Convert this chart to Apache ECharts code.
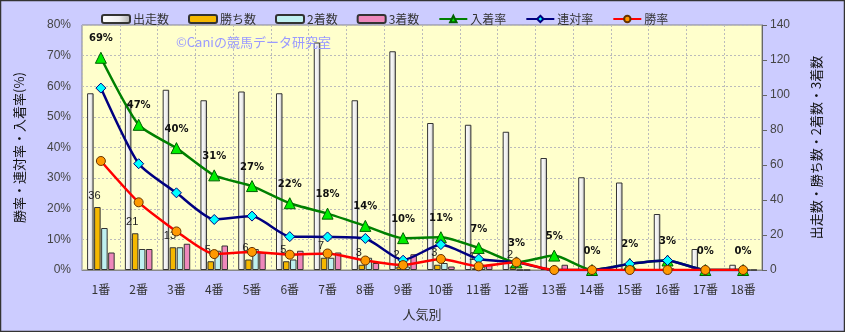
<!DOCTYPE html>
<html><head><meta charset="utf-8">
<script src="https://cdn.jsdelivr.net/npm/echarts@6/dist/echarts.min.js"></script>
<style>html,body{margin:0;padding:0;background:#ccccff}#c{width:845px;height:332px}</style>
</head><body><div id="c"></div>
<script>
const categories = ['1番','2番','3番','4番','5番','6番','7番','8番','9番','10番','11番','12番','13番','14番','15番','16番','17番','18番'];
const starts  = [101, 95, 103, 97, 102, 101, 130, 97, 125, 84, 83, 79, 64, 53, 50, 32, 12, 3];
const wins    = [36, 21, 13, 5, 6, 5, 7, 3, 2, 3, 1, 2, 0, 0, 0, 0, 0, 0];
const seconds = [24, 12, 13, 11, 12, 6, 7, 7, 2, 4, 2, 0, 0, 0, 1, 1, 0, 0];
const thirds  = [10, 12, 15, 14, 10, 11, 10, 4, 9, 2, 3, 0, 3, 0, 0, 0, 0, 0];
const placeRate    = [69.3, 47.4, 39.8, 30.9, 27.4, 21.8, 18.4, 14.4, 10.4, 10.7, 7.2, 2.5, 4.7, 0, 2.0, 3.1, 0, 0];
const quinellaRate = [59.4, 34.7, 25.2, 16.5, 17.6, 10.9, 10.8, 10.3, 3.2, 8.3, 3.6, 2.5, 0, 0, 2.0, 3.1, 0, 0];
const winRate      = [35.6, 22.1, 12.6, 5.2, 5.9, 5.0, 5.4, 3.1, 1.6, 3.6, 1.2, 2.5, 0, 0, 0, 0, 0, 0];
const leftTicks = [0, 10, 20, 30, 40, 50, 60, 70, 80];
const rightTicks = [0, 20, 40, 60, 80, 100, 120, 140];

const JP = '"Noto Sans CJK JP", sans-serif';
const chart = echarts.init(document.getElementById('c'));
const barW = 6.5;
const bs = (c) => ({ color: c, borderColor: '#333', borderWidth: 1 });
chart.setOption({
  backgroundColor: '#ccccff',
  animation: false,
  textStyle: { fontFamily: JP },
  graphic: [
    { type: 'rect', shape: { x: 0.5, y: 0.5, width: 844, height: 331 }, style: { fill: 'none', stroke: '#333', lineWidth: 1.5 }, z: 100 },
    { type: 'text', left: 176, top: 36, z: 50, style: { text: '©Caniの競馬データ研究室', fill: '#9a9aff', font: '13px "Noto Sans CJK JP"' } }
  ],
  legend: {
    top: 8, left: 96, itemWidth: 28, itemHeight: 8, itemGap: 19,
    textStyle: { fontSize: 12, color: '#333', fontFamily: JP, padding: [0, 0, 0, -2] },
    data: [
      { name: '出走数', icon: 'roundRect' }, { name: '勝ち数', icon: 'roundRect' },
      { name: '2着数', icon: 'roundRect' }, { name: '3着数', icon: 'roundRect' },
      '入着率', '連対率', '勝率'
    ]
  },
  grid: { left: 82, right: 83, top: 25, bottom: 62, show: true, backgroundColor: '#ffffcc', borderColor: '#888', borderWidth: 1 },
  xAxis: {
    type: 'category', data: categories,
    name: '人気別', nameLocation: 'middle', nameGap: 38,
    nameTextStyle: { fontSize: 13, color: '#333', fontFamily: JP },
    axisLine: { lineStyle: { color: '#888' } },
    axisTick: { show: false },
    axisLabel: { fontSize: 12, color: '#333', margin: 13, interval: 0, fontFamily: JP },
    splitLine: { show: true, lineStyle: { color: '#bbb', type: [2, 2] } }
  },
  yAxis: [
    {
      type: 'value', min: leftTicks[0], max: leftTicks[leftTicks.length - 1], interval: 10,
      name: '勝率・連対率・入着率(%)', nameLocation: 'middle', nameGap: 56, nameRotate: 90,
      nameTextStyle: { fontSize: 13, color: '#111', fontFamily: JP },
      axisLine: { show: false }, axisTick: { show: false },
      axisLabel: { formatter: '{value}%', fontSize: 12, color: '#444', margin: 11, fontFamily: '"Liberation Sans Narrow", "Liberation Sans", sans-serif' },
      splitLine: { show: true, lineStyle: { color: '#bbb', type: [2, 2] } }
    },
    {
      type: 'value', min: rightTicks[0], max: rightTicks[rightTicks.length - 1], interval: 20, position: 'right',
      name: '出走数・勝ち数・2着数・3着数', nameLocation: 'middle', nameGap: 48, nameRotate: 90,
      nameTextStyle: { fontSize: 13, color: '#111', fontFamily: JP },
      axisLine: { show: true, lineStyle: { color: '#666' } },
      axisTick: { show: true, length: 5, lineStyle: { color: '#666' } },
      axisLabel: { fontSize: 12, color: '#444', margin: 8, fontFamily: '"Liberation Sans", sans-serif' },
      splitLine: { show: false }
    }
  ],
  series: [
    { name: '出走数', type: 'bar', yAxisIndex: 1, data: starts, barWidth: barW, barGap: '8%',
      itemStyle: { color: new echarts.graphic.LinearGradient(0, 0, 1, 0, [{ offset: 0, color: '#ffffff' }, { offset: 0.6, color: '#eeeeee' }, { offset: 1, color: '#aaaaaa' }]), borderColor: '#333', borderWidth: 1 } },
    { name: '勝ち数', type: 'bar', yAxisIndex: 1, data: wins, barWidth: barW, barGap: '8%', itemStyle: bs('#f5b800'),
      label: { show: true, position: 'top', distance: 6, offset: [-3, 0], fontSize: 11, color: '#222', fontFamily: '"Liberation Sans", sans-serif',
        formatter: p => p.value ? String(p.value) : '' } },
    { name: '2着数', type: 'bar', yAxisIndex: 1, data: seconds, barWidth: barW, barGap: '8%', itemStyle: bs('#bff0f0') },
    { name: '3着数', type: 'bar', yAxisIndex: 1, data: thirds, barWidth: barW, barGap: '8%', itemStyle: bs('#ee88bb') },
    { name: '入着率', type: 'line', yAxisIndex: 0, data: placeRate, smooth: 0.2,
      lineStyle: { color: '#008000', width: 2.5 }, symbol: 'triangle', symbolSize: 11,
      itemStyle: { color: '#00ee00', borderColor: '#006000', borderWidth: 1 },
      label: { show: true, position: 'top', distance: 8, fontSize: 10, fontWeight: 'bold', color: '#111', fontFamily: '"DejaVu Sans", sans-serif',
        formatter: p => Math.round(p.value) + '%' } },
    { name: '連対率', type: 'line', yAxisIndex: 0, data: quinellaRate, smooth: 0.2,
      lineStyle: { color: '#000080', width: 2.5 }, symbol: 'diamond', symbolSize: 10,
      itemStyle: { color: '#00ffff', borderColor: '#000080', borderWidth: 1 } },
    { name: '勝率', type: 'line', yAxisIndex: 0, data: winRate, smooth: 0.2,
      lineStyle: { color: '#ff0000', width: 2.5 }, symbol: 'circle', symbolSize: 9,
      itemStyle: { color: '#ff9900', borderColor: '#663300', borderWidth: 1 } }
  ]
});
</script></body></html>
